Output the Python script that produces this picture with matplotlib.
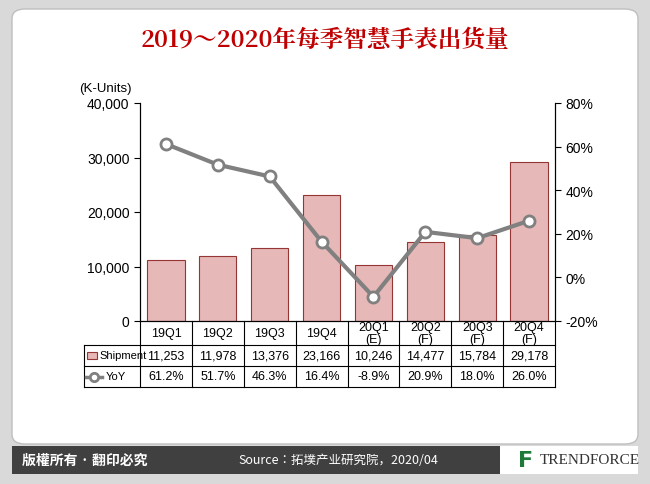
import matplotlib
matplotlib.use("Agg")
import matplotlib.pyplot as plt
from matplotlib import font_manager as fm
from matplotlib.patches import FancyBboxPatch, Rectangle
from matplotlib.lines import Line2D

plt.rcParams["font.family"] = "Liberation Sans"

categories = ["19Q1", "19Q2", "19Q3", "19Q4", "20Q1\n(E)", "20Q2\n(F)", "20Q3\n(F)", "20Q4\n(F)"]
shipment = [11253, 11978, 13376, 23166, 10246, 14477, 15784, 29178]
yoy = [61.2, 51.7, 46.3, 16.4, -8.9, 20.9, 18.0, 26.0]
left_ticks = [0, 10000, 20000, 30000, 40000]
right_ticks = [-20, 0, 20, 40, 60, 80]

cjk_files = [f for f in fm.findSystemFonts() if "cjk" in f.lower()]
sans = [f for f in cjk_files if "Sans" in f] or cjk_files
bold = [f for f in sans if "Bold" in f]
reg = [f for f in sans if "Regular" in f]
cjk_bold = fm.FontProperties(fname=bold[0]) if bold else fm.FontProperties(family="Noto Sans CJK SC", weight="bold")
cjk_reg = fm.FontProperties(fname=reg[0]) if reg else fm.FontProperties(family="Noto Sans CJK SC")
serif = [f for f in cjk_files if "Serif" in f and "Bold" in f]
title_fp = fm.FontProperties(fname=serif[0]) if serif else cjk_bold.copy()

W, H = 650, 485
fig = plt.figure(figsize=(6.5, 4.85), dpi=100)
fig.patch.set_facecolor("#d9d9d9")

def fx(px): return px / W
def fy(py): return 1 - py / H

fig.patches.append(FancyBboxPatch((fx(12), fy(445)), fx(626), 435 / H,
    boxstyle="round,pad=0,rounding_size=0.02", transform=fig.transFigure,
    facecolor="white", edgecolor="#bfbfbf", lw=1, zorder=-5))
fig.patches.append(Rectangle((fx(12), fy(475)), fx(626), 28 / H, transform=fig.transFigure,
    facecolor="#404040", edgecolor="none", zorder=-5))
fig.patches.append(Rectangle((fx(500), fy(475)), fx(138), 28 / H, transform=fig.transFigure,
    facecolor="white", edgecolor="none", zorder=-5))
fp = cjk_bold.copy(); fp.set_size(10)
fig.text(fx(22), fy(461), "版權所有 · 翻印必究", color="white", fontproperties=fp, va="center")
fp2 = cjk_reg.copy(); fp2.set_size(9)
fig.text(fx(238), fy(461), "Source：拓墣产业研究院，2020/04", color="white",
         fontproperties=fp2, va="center")
fig.text(fx(540), fy(461), "TRENDFORCE", color="#333333", fontsize=11, family="Liberation Serif",
         va="center")
fig.text(fx(518), fy(461), "F", color="#1f7a3a", fontsize=16, fontweight="bold",
         family="DejaVu Sans", va="center")

title_fp.set_size(17)
fig.text(0.5, fy(40), "2019～2020年每季智慧手表出货量", color="#c00000",
         fontproperties=title_fp, ha="center", va="center")

ax = fig.add_axes([fx(140), fy(322), fx(415), 218 / H])
ax.set_zorder(2)
ax.patch.set_alpha(0)
x = list(range(len(categories)))
ax.bar(x, shipment, width=0.72, color="#e6b8b7", edgecolor="#963634", lw=0.8)
ax.set_xlim(-0.5, len(categories) - 0.5)
ax.set_ylim(0, 40000)
ax.set_yticks(left_ticks)
ax.set_yticklabels([f"{v:,}" for v in left_ticks], fontsize=10)
ax.set_xticks([])
ax.tick_params(axis="y", direction="out", length=4)
ax.spines["top"].set_visible(False)
ax.text(-0.02, 1.04, "(K-Units)", transform=ax.transAxes, ha="right", va="bottom", fontsize=9.5)

ax2 = ax.twinx()
ax2.set_zorder(3)
ax2.patch.set_alpha(0)
ax2.plot(x, yoy, color="#808080", lw=3, marker="o", markersize=8,
         markerfacecolor="white", markeredgecolor="#808080", markeredgewidth=2)
ax2.set_ylim(-20, 80)
ax2.set_yticks(right_ticks)
ax2.set_yticklabels([f"{v}%" for v in right_ticks], fontsize=10)
ax2.spines["top"].set_visible(False)
ax2.tick_params(axis="y", direction="out", length=4)

tr = ax.get_xaxis_transform()
row_y = [0, -24 / 218, -45 / 218, -66 / 218]
upp = len(categories) / 415.0
left_ext = -0.5 - 56 * upp
for yv in row_y[1:]:
    ax.add_line(Line2D([left_ext, len(categories) - 0.5], [yv, yv], transform=tr, color="black",
                       lw=0.8, clip_on=False))
ax.add_line(Line2D([left_ext, left_ext], [row_y[1], row_y[3]], transform=tr, color="black",
                   lw=0.8, clip_on=False))
for i in range(len(categories) + 1):
    ax.add_line(Line2D([i - 0.5, i - 0.5], [0, row_y[3]], transform=tr, color="black",
                       lw=0.8, clip_on=False))
for i, c in enumerate(categories):
    ax.text(i, (row_y[0] + row_y[1]) / 2, c, transform=tr, ha="center", va="center",
            fontsize=9, linespacing=1.0)
    ax.text(i, (row_y[1] + row_y[2]) / 2, f"{shipment[i]:,}", transform=tr, ha="center",
            va="center", fontsize=9)
    ax.text(i, (row_y[2] + row_y[3]) / 2, f"{yoy[i]:.1f}%", transform=tr, ha="center",
            va="center", fontsize=9)
ym1 = (row_y[1] + row_y[2]) / 2
ym2 = (row_y[2] + row_y[3]) / 2
ax.add_patch(Rectangle((left_ext + 3 * upp, ym1 - 0.018), 10 * upp, 0.036,
                       transform=tr, facecolor="#e6b8b7", edgecolor="#963634", lw=0.8, clip_on=False))
ax.text(left_ext + 15 * upp, ym1, "Shipment", transform=tr, va="center", fontsize=8)
ax.add_line(Line2D([left_ext + 2 * upp, left_ext + 18 * upp], [ym2, ym2], transform=tr,
                   color="#808080", lw=2.5, clip_on=False))
ax.plot([left_ext + 10 * upp], [ym2], transform=tr, marker="o", markersize=6,
        markerfacecolor="white", markeredgecolor="#808080", markeredgewidth=2, clip_on=False)
ax.text(left_ext + 22 * upp, ym2, "YoY", transform=tr, va="center", fontsize=8)

fig.savefig("out.png", dpi=100, facecolor=fig.get_facecolor())
